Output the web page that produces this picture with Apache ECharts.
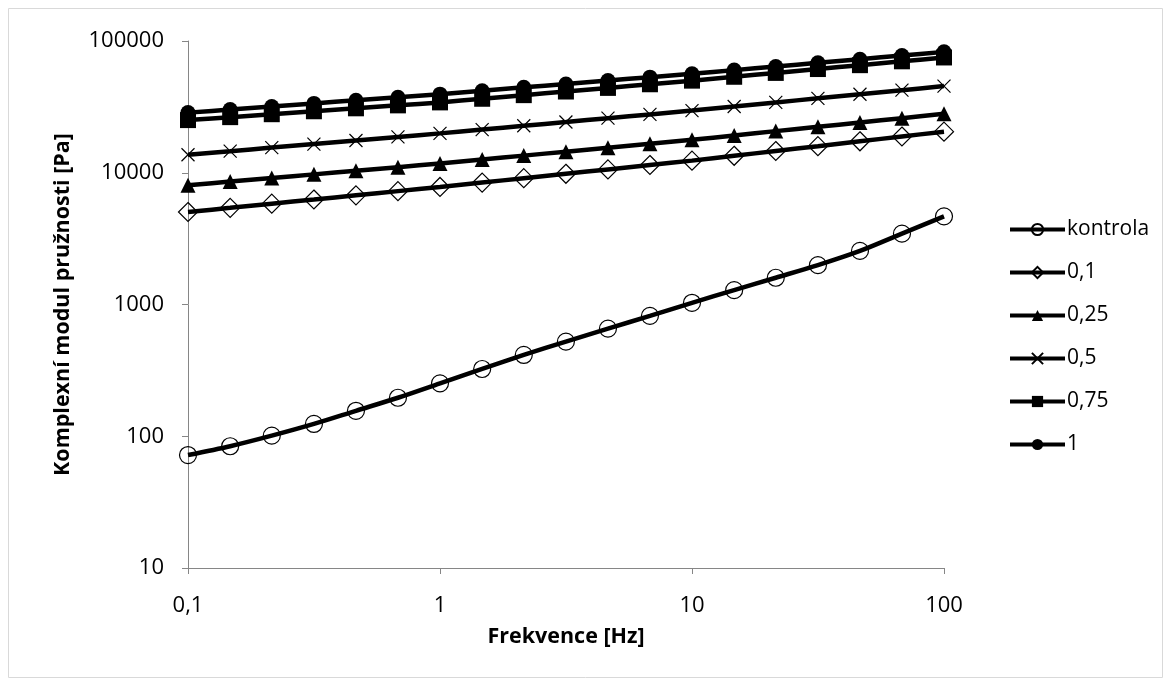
<!DOCTYPE html>
<html>
<head>
<meta charset="utf-8">
<script src="https://cdn.jsdelivr.net/npm/echarts@6/dist/echarts.min.js"></script>
<style>
  html, body { margin: 0; padding: 0; background: #fff; }
  #main { width: 1170px; height: 685px; }
</style>
</head>
<body>
<div id="main"></div>
<script>
// frekvence [Hz]
const freq = [0.1, 0.147, 0.215, 0.316, 0.464, 0.681, 1, 1.47, 2.15, 3.16, 4.64, 6.81, 10, 14.7, 21.5, 31.6, 46.4, 68.1, 100];

// komplexní modul pružnosti [Pa]
const kontrola = [72, 84, 101, 124, 156, 196, 252, 324, 414, 523, 656, 820, 1030, 1285, 1596, 1990, 2550, 3450, 4670];
const c010 = [5035, 5416, 5826, 6267, 6742, 7252, 7800, 8423, 9095, 9821, 10600, 11450, 12360, 13450, 14630, 15920, 17330, 18850, 20510];
const c025 = [8040, 8565, 9124, 9720, 10350, 11030, 11750, 12590, 13490, 14460, 15490, 16600, 17790, 19190, 20700, 22320, 24080, 25970, 28010];
const c050 = [13700, 14580, 15520, 16510, 17570, 18700, 19900, 21270, 22720, 24280, 25950, 27730, 29630, 31820, 34180, 36710, 39420, 42340, 45470];
const c075 = [25100, 26430, 27820, 29290, 30840, 32470, 34200, 36440, 38820, 41360, 44070, 46950, 50020, 53520, 57260, 61260, 65550, 70130, 75000];
const c100 = [28600, 30180, 31850, 33600, 35460, 37420, 39500, 41920, 44490, 47220, 50110, 53180, 56400, 60110, 64070, 68280, 72770, 77560, 82700];

const names = ['kontrola', '0,1', '0,25', '0,5', '0,75', '1'];

const font = 'Open Sans';
const hollow = { color: 'rgba(0,0,0,0)', borderColor: '#000', borderWidth: 1.2 };
const solid = { color: '#000', borderColor: '#000', borderWidth: 0 };

function pairs(vals) {
  return freq.map((f, i) => [f, vals[i]]);
}

function line(name, vals, symbol, size, itemStyle) {
  return {
    name: name,
    type: 'line',
    data: pairs(vals),
    smooth: 0.3,
    symbol: symbol,
    symbolSize: size,
    showAllSymbol: true,
    lineStyle: { color: '#000', width: 4.5 },
    itemStyle: itemStyle,
    emphasis: { disabled: true }
  };
}

const chart = echarts.init(document.getElementById('main'));

chart.setOption({
  animation: false,
  textStyle: { fontFamily: font, color: '#000' },
  graphic: [{
    type: 'rect',
    shape: { x: 8.5, y: 8.5, width: 1154, height: 669 },
    style: { fill: 'none', stroke: '#d9d9d9', lineWidth: 1 },
    silent: true
  }],
  grid: { left: 188, right: 226, top: 41, bottom: 117 },
  legend: {
    orient: 'vertical',
    left: 1003,
    top: 214,
    itemWidth: 55,
    itemHeight: 14,
    itemGap: 22,
    data: names,
    lineStyle: { width: 4 },
    textStyle: { fontFamily: font, fontSize: 21, color: '#000', padding: [0, 0, 0, -3] }
  },
  xAxis: {
    type: 'log',
    logBase: 10,
    min: 0.1,
    max: 100,
    name: 'Frekvence [Hz]',
    nameLocation: 'middle',
    nameGap: 58,
    nameTextStyle: { fontFamily: font, fontSize: 21.5, fontWeight: 'bold', color: '#000' },
    axisLine: { lineStyle: { color: '#868686', width: 1 } },
    axisTick: { show: true, length: 6, lineStyle: { color: '#868686' } },
    minorTick: { show: false },
    splitLine: { show: false },
    axisLabel: {
      fontFamily: font, fontSize: 22, color: '#000', margin: 27,
      formatter: v => (v < 1 ? v.toFixed(1) : String(Math.round(v))).replace('.', ',')
    }
  },
  yAxis: {
    type: 'log',
    logBase: 10,
    min: 10,
    max: 100000,
    name: 'Komplexní modul pružnosti [Pa]',
    nameLocation: 'middle',
    nameGap: 114,
    nameTextStyle: { fontFamily: font, fontSize: 21.5, fontWeight: 'bold', color: '#000' },
    axisLine: { show: true, lineStyle: { color: '#868686', width: 1 } },
    axisTick: { show: true, length: 6, lineStyle: { color: '#868686' } },
    minorTick: { show: false },
    splitLine: { show: false },
    axisLabel: {
      fontFamily: font, fontSize: 22, color: '#000', margin: 24,
      formatter: v => String(Math.round(v))
    }
  },
  series: [
    line(names[0], kontrola, 'circle', 17, hollow),
    line(names[1], c010, 'diamond', 19, hollow),
    line(names[2], c025, 'triangle', 15, solid),
    line(names[3], c050, 'path://M0,0L10,10M10,0L0,10', 13, { color: 'rgba(0,0,0,0)', borderColor: '#000', borderWidth: 1.2 }),
    line(names[4], c075, 'rect', 16, solid),
    line(names[5], c100, 'circle', 15, solid)
  ]
});
</script>
</body>
</html>
